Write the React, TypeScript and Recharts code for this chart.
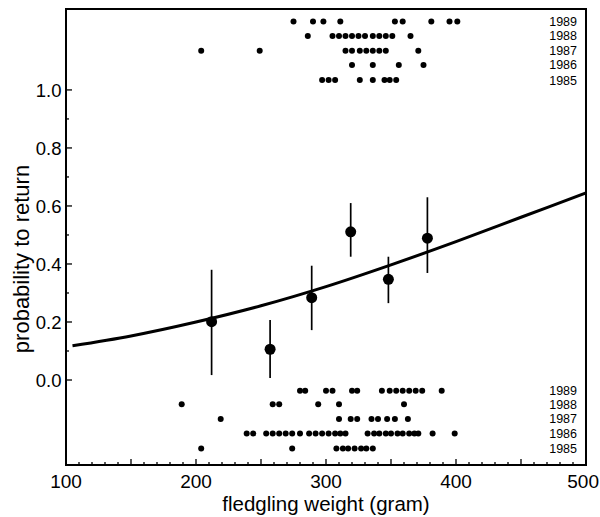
import React from "react"
import { ComposedChart, Scatter, Line, XAxis, YAxis, ErrorBar, ReferenceArea } from "recharts"

// fledgling weights (gram) of birds that returned (plotted at top) and did not (bottom), per year
const returned1989 = [275, 290, 298, 311, 353, 359, 381, 395, 401]
const returned1988 = [286, 305, 310, 315, 320, 325, 330, 336, 341, 346, 351, 365]
const returned1987 = [204, 249, 315, 320, 326, 331, 336, 341, 346, 371]
const returned1986 = [320, 336, 356, 375]
const returned1985 = [297, 302, 307, 326, 336, 345, 349, 354]

const lost1989 = [280, 284, 300, 305, 320, 324, 343, 349, 354, 359, 364, 369, 374, 389]
const lost1988 = [189, 259, 264, 294, 310, 360]
const lost1987 = [219, 310, 319, 324, 335, 340, 347, 353, 363]
const lost1986 = [239, 244, 254, 259, 264, 269, 274, 280, 287, 292, 297, 302, 307, 311, 315, 332, 337, 341, 346, 350, 355, 359, 364, 368, 371, 382, 399]
const lost1985 = [204, 274, 308, 313, 317, 322, 327, 331, 336]

const years = ["1989", "1988", "1987", "1986", "1985"]
const topRowY = [1.236, 1.186, 1.135, 1.086, 1.034]
const bottomRowY = [-0.037, -0.084, -0.134, -0.184, -0.236]

// group means with error bars
const meanWeight = [212, 257, 289, 319, 348, 378]
const meanProb = [0.201, 0.106, 0.284, 0.511, 0.347, 0.489]
const errLow = [0.017, 0.007, 0.172, 0.425, 0.265, 0.369]
const errHigh = [0.38, 0.207, 0.394, 0.61, 0.425, 0.63]

// fitted curve
const curveWeight = [105, 150, 200, 250, 300, 350, 400, 450, 500]
const curveProb = [0.118, 0.152, 0.2, 0.256, 0.322, 0.397, 0.477, 0.561, 0.645]

const yTicks = [0, 0.1, 0.2, 0.3, 0.4, 0.5, 0.6, 0.7, 0.8, 0.9, 1.0]
const xTicks = Array.from({ length: 41 }, (_, i) => 100 + i * 10)

const X_DOMAIN = [100, 500]
const Y_DOMAIN = [-0.293, 1.279]
const FONT = "'Liberation Sans', Arial, Helvetica, sans-serif"

const returnedRows = [returned1989, returned1988, returned1987, returned1986, returned1985]
const lostRows = [lost1989, lost1988, lost1987, lost1986, lost1985]

const toPoints = (weights, y) => weights.map((w) => ({ x: w, y }))

const meanData = meanWeight.map((w, i) => ({
  x: w,
  y: meanProb[i],
  err: [meanProb[i] - errLow[i], errHigh[i] - meanProb[i]],
}))

const curveData = curveWeight.map((w, i) => ({ x: w, y: curveProb[i] }))

const labelData = [
  ...years.map((yr, i) => ({ x: 500, y: topRowY[i], label: yr })),
  ...years.map((yr, i) => ({ x: 500, y: bottomRowY[i], label: yr })),
]

const SmallDot = (props) => <circle cx={props.cx} cy={props.cy} r={3} fill="#000" />
const BigDot = (props) => <circle cx={props.cx} cy={props.cy} r={5.5} fill="#000" />
const YearLabel = (props) => (
  <text x={props.cx - 9} y={props.cy + 4.5} textAnchor="end" fontSize={12.5} fontFamily={FONT} fill="#000">
    {props.payload.label}
  </text>
)

const XTick = (props) => {
  const { x, y, payload } = props
  const v = payload.value
  const len = v % 50 === 0 ? 6 : 3
  // last label would run off the page, so pin its right edge
  const last = v === X_DOMAIN[1]
  return (
    <g>
      <line x1={x} x2={x} y1={y} y2={y - len} stroke="#000" strokeWidth={1.3} />
      {v % 100 === 0 && (
        <text
          x={last ? 599 : x}
          y={y + 23}
          textAnchor={last ? "end" : "middle"}
          fontSize={19}
          fontFamily={FONT}
          fill="#000"
        >
          {v}
        </text>
      )}
    </g>
  )
}

const YTick = (props) => {
  const { x, y, payload } = props
  const v = payload.value
  const major = Math.round(v * 10) % 2 === 0
  return (
    <g>
      <line x1={x} x2={x + (major ? 6 : 3)} y1={y} y2={y} stroke="#000" strokeWidth={1.3} />
      {major && (
        <text x={x - 4.5} y={y + 6.6} textAnchor="end" fontSize={18.5} fontFamily={FONT} fill="#000">
          {v.toFixed(1)}
        </text>
      )}
    </g>
  )
}

const YTitle = () => (
  <text
    x={0}
    y={0}
    transform="translate(28.5, 259) rotate(-90)"
    textAnchor="middle"
    fontSize={22}
    fontFamily={FONT}
    fill="#000"
  >
    probability to return
  </text>
)

const XTitle = () => (
  <text x={326} y={511} textAnchor="middle" fontSize={20.5} fontFamily={FONT} fill="#000">
    fledgling weight (gram)
  </text>
)

export default function App() {
  return (
    <div style={{ position: "absolute", left: 0, top: 0, background: "#fff" }}>
      <ComposedChart width={600} height={517} margin={{ top: 9, right: 14, bottom: 0, left: 0 }}>
        <XAxis
          type="number"
          dataKey="x"
          domain={X_DOMAIN}
          ticks={xTicks}
          interval={0}
          allowDataOverflow
          axisLine={false}
          tickLine={false}
          tickSize={0}
          tickMargin={0}
          tick={<XTick />}
          height={52}
          label={<XTitle />}
        />
        <YAxis
          type="number"
          dataKey="y"
          domain={Y_DOMAIN}
          ticks={yTicks}
          interval={0}
          allowDataOverflow
          axisLine={false}
          tickLine={false}
          tickSize={0}
          tickMargin={0}
          tick={<YTick />}
          width={66}
          label={<YTitle />}
        />
        <ReferenceArea
          x1={X_DOMAIN[0]}
          x2={X_DOMAIN[1]}
          y1={Y_DOMAIN[0]}
          y2={Y_DOMAIN[1]}
          fill="none"
          stroke="#000"
          strokeWidth={2}
          ifOverflow="visible"
        />
        {returnedRows.map((w, i) => (
          <Scatter key={`top-${i}`} data={toPoints(w, topRowY[i])} shape={<SmallDot />} isAnimationActive={false} />
        ))}
        {lostRows.map((w, i) => (
          <Scatter key={`bot-${i}`} data={toPoints(w, bottomRowY[i])} shape={<SmallDot />} isAnimationActive={false} />
        ))}
        <Scatter data={labelData} shape={<YearLabel />} isAnimationActive={false} />
        <Line
          data={curveData}
          dataKey="y"
          type="monotone"
          stroke="#000"
          strokeWidth={3}
          dot={false}
          activeDot={false}
          isAnimationActive={false}
        />
        <Scatter data={meanData} shape={<BigDot />} isAnimationActive={false}>
          <ErrorBar dataKey="err" direction="y" width={0} stroke="#000" strokeWidth={1.7} isAnimationActive={false} />
        </Scatter>
      </ComposedChart>
    </div>
  )
}
